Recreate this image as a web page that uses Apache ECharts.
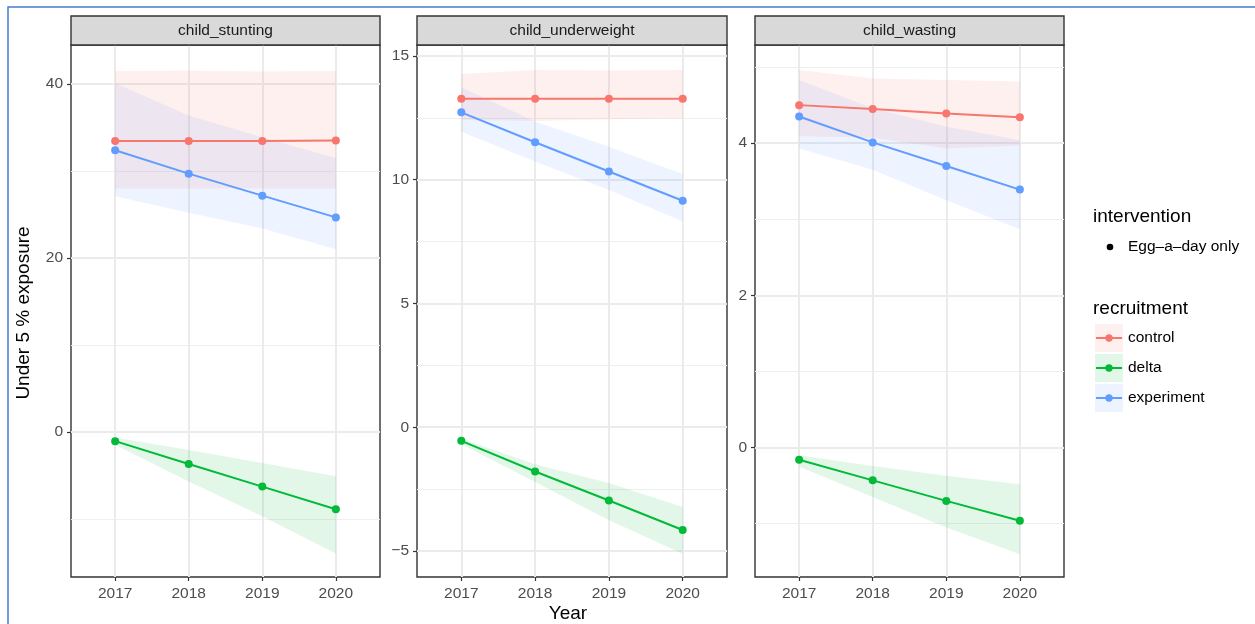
<!DOCTYPE html>
<html><head><meta charset="utf-8">
<script src="https://cdn.jsdelivr.net/npm/echarts@6/dist/echarts.min.js"></script>
<style>html,body{margin:0;padding:0;background:#fff}#c{width:1255px;height:624px}</style>
</head><body><div id="c"></div><script>
// ---------- data ----------
const years = [2017, 2018, 2019, 2020];
const panelNames = ['child_stunting', 'child_underweight', 'child_wasting'];
const groupNames = ['control', 'delta', 'experiment'];
const interventionNames = ['Egg\u2013a\u2013day only'];

// child_stunting
const stuntingControl = [33.45, 33.45, 33.45, 33.5];
const stuntingControlLo = [28.0, 28.0, 28.0, 28.0];
const stuntingControlHi = [41.5, 41.55, 41.45, 41.5];
const stuntingDelta = [-1.07, -3.7, -6.3, -8.9];
const stuntingDeltaLo = [-1.5, -5.7, -9.7, -14.0];
const stuntingDeltaHi = [-0.65, -2.1, -3.6, -5.1];
const stuntingExperiment = [32.4, 29.7, 27.17, 24.67];
const stuntingExperimentLo = [27.1, 25.2, 23.4, 21.0];
const stuntingExperimentHi = [40.1, 36.4, 33.9, 31.5];

// child_underweight
const underweightControl = [13.27, 13.27, 13.27, 13.27];
const underweightControlLo = [12.41, 12.37, 12.44, 12.48];
const underweightControlHi = [14.27, 14.43, 14.41, 14.43];
const underweightDelta = [-0.55, -1.79, -2.96, -4.15];
const underweightDeltaLo = [-0.69, -2.21, -3.76, -5.11];
const underweightDeltaHi = [-0.46, -1.5, -2.25, -3.22];
const underweightExperiment = [12.72, 11.51, 10.33, 9.15];
const underweightExperimentLo = [11.94, 10.73, 9.58, 8.31];
const underweightExperimentHi = [13.73, 12.35, 11.33, 10.23];

// child_wasting
const wastingControl = [4.50, 4.45, 4.39, 4.34];
const wastingControlLo = [4.09, 4.07, 3.93, 3.97];
const wastingControlHi = [4.96, 4.85, 4.83, 4.81];
const wastingDelta = [-0.16, -0.43, -0.70, -0.96];
const wastingDeltaLo = [-0.25, -0.65, -1.05, -1.40];
const wastingDeltaHi = [-0.10, -0.24, -0.37, -0.48];
const wastingExperiment = [4.35, 4.01, 3.70, 3.39];
const wastingExperimentLo = [3.93, 3.65, 3.25, 2.87];
const wastingExperimentHi = [4.83, 4.46, 4.22, 4.04];

// axis ticks and limits
const yTicksStunting = [0, 20, 40];
const yTicksUnderweight = [-5, 0, 5, 10, 15];
const yTicksWasting = [0, 2, 4];
const yLimitsStunting = [-16.7, 44.5];
const yLimitsUnderweight = [-6.05, 15.44];
const yLimitsWasting = [-1.70, 5.29];
const xLimits = [2016.4, 2020.6];

// ---------- build ----------
const colors = { control: '#F8766D', delta: '#00BA38', experiment: '#619CFF' };
const panels = [
  { ticks: yTicksStunting, lim: yLimitsStunting, split: 3,
    g: { control: [stuntingControl, stuntingControlLo, stuntingControlHi],
         delta: [stuntingDelta, stuntingDeltaLo, stuntingDeltaHi],
         experiment: [stuntingExperiment, stuntingExperimentLo, stuntingExperimentHi] } },
  { ticks: yTicksUnderweight, lim: yLimitsUnderweight, split: 4,
    g: { control: [underweightControl, underweightControlLo, underweightControlHi],
         delta: [underweightDelta, underweightDeltaLo, underweightDeltaHi],
         experiment: [underweightExperiment, underweightExperimentLo, underweightExperimentHi] } },
  { ticks: yTicksWasting, lim: yLimitsWasting, split: 3,
    g: { control: [wastingControl, wastingControlLo, wastingControlHi],
         delta: [wastingDelta, wastingDeltaLo, wastingDeltaHi],
         experiment: [wastingExperiment, wastingExperimentLo, wastingExperimentHi] } }
];

const FONT = 'Liberation Sans, Arial, sans-serif';
const layout = [{ left: 71, width: 309 }, { left: 417, width: 310 }, { left: 755, width: 309 }];
const TOP = 45, HEIGHT = 532, STRIP_TOP = 16;
const BAND_ALPHA = 0.11;

function rgba(hex, a) {
  const n = parseInt(hex.slice(1), 16);
  return 'rgba(' + (n >> 16 & 255) + ',' + (n >> 8 & 255) + ',' + (n & 255) + ',' + a + ')';
}
const fmt = v => (v < 0 ? '\u2212' + Math.abs(v) : String(v));

const grids = [], xAxes = [], yAxes = [], series = [], graphics = [];

panels.forEach((p, gi) => {
  grids.push({ left: layout[gi].left, top: TOP, width: layout[gi].width, height: HEIGHT,
    show: true, borderColor: '#333333', borderWidth: 1.4, backgroundColor: '#ffffff',
    containLabel: false, outerBoundsMode: 'none' });
  xAxes.push({ type: 'value', gridIndex: gi, position: 'bottom', min: xLimits[0], max: xLimits[1], splitNumber: 4,
    axisLine: { show: false, onZero: false },
    axisTick: { show: true, customValues: years, length: 4, lineStyle: { color: '#333333', width: 1.2 } },
    axisLabel: { customValues: years, color: '#4D4D4D', fontSize: 15.5, fontFamily: FONT, margin: 9,
      formatter: v => String(v) },
    splitLine: { show: true, lineStyle: { color: '#EBEBEB', width: 2 } } });
  yAxes.push({ type: 'value', gridIndex: gi, position: 'left', min: p.lim[0], max: p.lim[1], splitNumber: p.split,
    axisLine: { show: false, onZero: false },
    axisTick: { show: true, customValues: p.ticks, length: 4, lineStyle: { color: '#333333', width: 1.2 } },
    axisLabel: { customValues: p.ticks, color: '#4D4D4D', fontSize: 15.5, fontFamily: FONT, margin: 8,
      formatter: fmt },
    splitLine: { show: true, lineStyle: { color: '#EBEBEB', width: 2 } },
    minorTick: { show: false, splitNumber: 2 },
    minorSplitLine: { show: true, lineStyle: { color: '#EFEFEF', width: 1.1 } } });

  groupNames.forEach(name => {
    const [mid, lo, hi] = p.g[name];
    series.push({
      type: 'custom', name: name + ' band', xAxisIndex: gi, yAxisIndex: gi, silent: true, z: 2,
      encode: { x: 0, y: [1, 2] },
      data: years.map((y, i) => [y, lo[i], hi[i]]),
      renderItem: function (params, api) {
        if (params.dataIndex !== 0) return null;
        const top = years.map((y, i) => api.coord([y, hi[i]]));
        const bot = years.map((y, i) => api.coord([y, lo[i]])).reverse();
        return { type: 'polygon', shape: { points: top.concat(bot) },
          style: { fill: rgba(colors[name], BAND_ALPHA), stroke: null } };
      }
    });
  });
  groupNames.forEach(name => {
    const mid = p.g[name][0];
    series.push({
      type: 'line', name: name, xAxisIndex: gi, yAxisIndex: gi, z: 4,
      data: years.map((y, i) => [y, mid[i]]),
      symbol: 'circle', symbolSize: 8, showSymbol: true,
      lineStyle: { color: colors[name], width: 2 }, itemStyle: { color: colors[name] },
      emphasis: { disabled: true }
    });
  });

  // facet strip
  graphics.push({ type: 'rect', shape: { x: layout[gi].left, y: STRIP_TOP, width: layout[gi].width, height: TOP - STRIP_TOP },
    style: { fill: '#D9D9D9', stroke: '#333333', lineWidth: 1.4 }, z: 10 });
  graphics.push({ type: 'text', x: layout[gi].left + layout[gi].width / 2, y: (STRIP_TOP + TOP) / 2 + 0.5,
    style: { text: panelNames[gi], fill: '#1A1A1A', font: '15.5px ' + FONT, textAlign: 'center', textVerticalAlign: 'middle' }, z: 11 });
});

// outer frame
graphics.push({ type: 'rect', shape: { x: 8, y: 7, width: 1400, height: 800 },
  style: { fill: null, stroke: '#4A7BD0', lineWidth: 1.5 }, z: 0 });

// axis titles
graphics.push({ type: 'text', x: 24, y: TOP + HEIGHT / 2 + 2, rotation: Math.PI / 2,
  style: { text: 'Under 5 % exposure', fill: '#000', font: '19px ' + FONT, textAlign: 'center', textVerticalAlign: 'middle' }, z: 11 });
graphics.push({ type: 'text', x: layout[1].left + layout[1].width / 2 - 4, y: 614,
  style: { text: 'Year', fill: '#000', font: '19px ' + FONT, textAlign: 'center', textVerticalAlign: 'middle' }, z: 11 });

// legends
graphics.push({ type: 'text', x: 1093, y: 217,
  style: { text: 'intervention', fill: '#000', font: '19px ' + FONT, textVerticalAlign: 'middle' }, z: 11 });
graphics.push({ type: 'circle', shape: { cx: 1110, cy: 247, r: 3.3 }, style: { fill: '#000' }, z: 11 });
graphics.push({ type: 'text', x: 1128, y: 247,
  style: { text: interventionNames[0], fill: '#000', font: '15.5px ' + FONT, textVerticalAlign: 'middle' }, z: 11 });
graphics.push({ type: 'text', x: 1093, y: 309,
  style: { text: 'recruitment', fill: '#000', font: '19px ' + FONT, textVerticalAlign: 'middle' }, z: 11 });
groupNames.forEach((name, i) => {
  const cy = 338 + i * 30;
  graphics.push({ type: 'rect', shape: { x: 1095, y: cy - 14, width: 28, height: 28 },
    style: { fill: rgba(colors[name], BAND_ALPHA) }, z: 11 });
  graphics.push({ type: 'line', shape: { x1: 1096, y1: cy, x2: 1122, y2: cy },
    style: { stroke: colors[name], lineWidth: 2 }, z: 12 });
  graphics.push({ type: 'circle', shape: { cx: 1109, cy: cy, r: 3.7 }, style: { fill: colors[name] }, z: 12 });
  graphics.push({ type: 'text', x: 1128, y: cy,
    style: { text: name, fill: '#000', font: '15.5px ' + FONT, textVerticalAlign: 'middle' }, z: 12 });
});

const chart = echarts.init(document.getElementById('c'), null, { renderer: 'canvas' });
chart.setOption({
  animation: false,
  backgroundColor: '#ffffff',
  textStyle: { fontFamily: FONT },
  grid: grids, xAxis: xAxes, yAxis: yAxes, series: series, graphic: graphics
});
</script></body></html>
